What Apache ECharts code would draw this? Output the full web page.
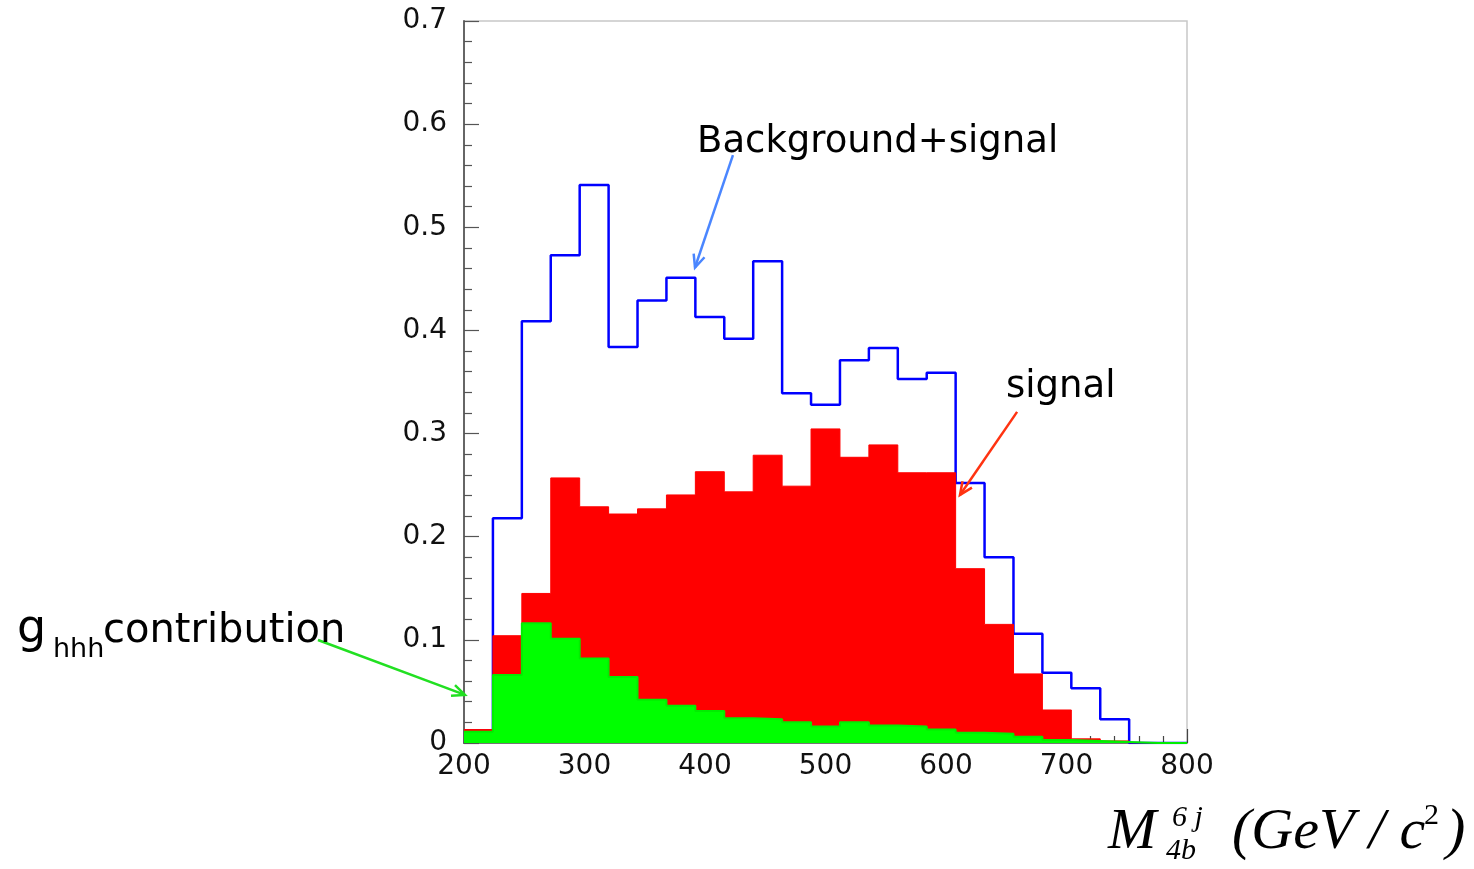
<!DOCTYPE html>
<html>
<head>
<meta charset="utf-8">
<script src="https://cdn.jsdelivr.net/npm/echarts@6/dist/echarts.min.js"></script>
<style>
html,body{margin:0;padding:0;background:#fff;}
#chart{width:1474px;height:869px;}
</style>
</head>
<body>
<div id="chart"></div>
<script>
// Bin left edges (GeV/c^2), bin width 24
var binEdges = [200,224,248,272,296,320,344,368,392,416,440,464,488,512,536,560,584,608,632,656,680,704,728,752,776];
var binEnd = 800;
// Background + signal (blue outline)
var bkgSignal = [0.012,0.218,0.409,0.473,0.541,0.384,0.429,0.451,0.413,0.392,0.467,0.339,0.328,0.371,0.383,0.353,0.359,0.252,0.180,0.106,0.068,0.053,0.023,0.000,0.000];
// Signal (red fill)
var signal = [0.013,0.104,0.145,0.257,0.229,0.222,0.227,0.2405,0.263,0.2435,0.279,0.249,0.3045,0.277,0.289,0.262,0.262,0.169,0.115,0.067,0.032,0.004,0.002,0.000,0.000];
// g_hhh contribution (green fill)
var ghhh = [0.011,0.066,0.116,0.101,0.082,0.064,0.042,0.036,0.031,0.024,0.023,0.020,0.016,0.020,0.017,0.016,0.013,0.010,0.009,0.006,0.003,0.002,0.001,0.000,0.000];
var yTickLabels = ['0','0.1','0.2','0.3','0.4','0.5','0.6','0.7'];

function stepData(vals){
  var d = binEdges.map(function(x,i){ return [x, vals[i]]; });
  d.push([binEnd, vals[vals.length-1]]);
  return d;
}

var chart = echarts.init(document.getElementById('chart'));
var axisFont = 'DejaVu Sans';
var option = {
  animation:false,
  backgroundColor:'#fff',
  grid:{left:464,right:287,top:21,bottom:126,show:true,borderColor:'#c8c8c8',borderWidth:1.5,backgroundColor:'transparent'},
  xAxis:{
    type:'value',min:200,max:800,interval:100,
    axisLine:{show:true,onZero:false,lineStyle:{color:'#555',width:1.5}},
    axisTick:{show:true,inside:true,length:14,lineStyle:{color:'#444',width:1.2}},
    minorTick:{show:true,splitNumber:5,length:7,lineStyle:{color:'#444',width:1.2}},
    splitLine:{show:false},
    axisLabel:{fontFamily:axisFont,fontSize:28,color:'#111',margin:10}
  },
  yAxis:{
    type:'value',min:0,max:0.7,interval:0.1,
    axisLine:{show:true,lineStyle:{color:'#666',width:2}},
    axisTick:{show:true,inside:true,length:15,lineStyle:{color:'#555',width:1.2}},
    minorTick:{show:true,splitNumber:5,length:8,lineStyle:{color:'#555',width:1.2}},
    splitLine:{show:false},
    axisLabel:{fontFamily:axisFont,fontSize:28,color:'#111',margin:17,
      formatter:function(v){ return yTickLabels[Math.round(v*10)]; }}
  },
  series:[
    {name:'Background+signal',type:'line',step:'end',data:stepData(bkgSignal),showSymbol:false,symbol:'none',
      lineStyle:{color:'#0000ff',width:2.5},z:2},
    {name:'signal',type:'line',step:'end',data:stepData(signal),showSymbol:false,symbol:'none',
      lineStyle:{color:'#ff0000',width:1},areaStyle:{color:'#ff0000',opacity:1},z:3},
    {name:'ghhh',type:'line',step:'end',data:stepData(ghhh),showSymbol:false,symbol:'none',
      lineStyle:{color:'#00ee00',width:2},areaStyle:{color:'#00ff00',opacity:1},z:4}
  ]
};
chart.setOption(option);

// Annotation arrows defined in data coordinates
var arrows = [
  {from:[423.2,0.570], to:[391.7,0.461], color:'#4a86ff'},
  {from:[659.0,0.321], to:[611.6,0.2405], color:'#ff3311'},
  {from:[78.8,0.0999], to:[200.8,0.0466], color:'#22e022'}
];
var graphics = [];
arrows.forEach(function(a){
  var p0 = chart.convertToPixel({gridIndex:0}, a.from);
  var p1 = chart.convertToPixel({gridIndex:0}, a.to);
  var dx = p1[0]-p0[0], dy = p1[1]-p0[1];
  var ang = Math.atan2(dy,dx), L = 14, sp = 0.42;
  var h1 = [p1[0]-L*Math.cos(ang-sp), p1[1]-L*Math.sin(ang-sp)];
  var h2 = [p1[0]-L*Math.cos(ang+sp), p1[1]-L*Math.sin(ang+sp)];
  graphics.push({type:'line',z:100,shape:{x1:p0[0],y1:p0[1],x2:p1[0],y2:p1[1]},style:{stroke:a.color,lineWidth:2.5}});
  graphics.push({type:'polyline',z:100,shape:{points:[h1,p1,h2]},style:{stroke:a.color,lineWidth:2.5,fill:null}});
});
var annFont = 'DejaVu Sans';
function txt(t,x,y,size,opts){
  opts = opts||{};
  return {type:'text',z:100,x:x,y:y,style:{text:t,fontFamily:opts.family||annFont,fontSize:size,
    fontStyle:opts.style||'normal',fill:'#000',align:'left',verticalAlign:'middle'}};
}
graphics.push(txt('Background+signal',697,142,37));
graphics.push(txt('signal',1006,387,37));
graphics.push(txt('g',17,630,46));
graphics.push(txt('hhh',53,650,27));
graphics.push(txt('contribution',103,632,40));
// x-axis title: M_{4b}^{6j} (GeV / c^2)
var serif = 'Liberation Serif';
graphics.push(txt('M',1108,833,58,{family:serif,style:'italic'}));
graphics.push(txt('6 j',1172,818,30,{family:serif,style:'italic'}));
graphics.push(txt('4b',1166,851,30,{family:serif,style:'italic'}));
graphics.push(txt('(GeV / c',1232,833,58,{family:serif,style:'italic'}));
graphics.push(txt('2',1424,816,30,{family:serif}));
graphics.push(txt(')',1446,833,58,{family:serif,style:'italic'}));
chart.setOption({graphic:graphics});
</script>
</body>
</html>
